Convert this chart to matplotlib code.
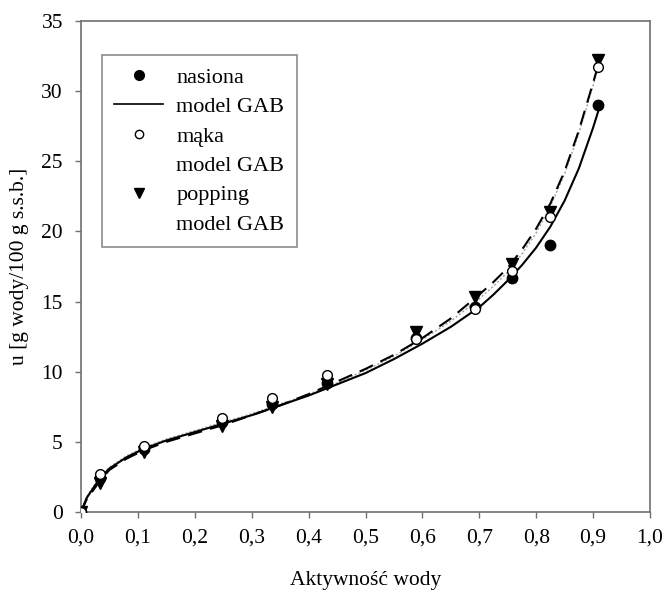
import matplotlib
matplotlib.use("Agg")
import matplotlib.pyplot as plt
from matplotlib.lines import Line2D
from matplotlib.ticker import FuncFormatter

# ---------------------------------------------------------------------------
# Dane
# ---------------------------------------------------------------------------
aw_pts = [0.0, 0.033, 0.11, 0.248, 0.336, 0.432, 0.589, 0.693, 0.757, 0.824, 0.909]
u_nasiona = [0.0, 2.4, 4.5, 6.4, 7.7, 9.2, 12.4, 14.6, 16.7, 19.0, 29.0]
u_maka = [0.0, 2.7, 4.7, 6.7, 8.1, 9.8, 12.3, 14.5, 17.2, 21.0, 31.7]
u_popping = [0.0, 2.1, 4.3, 6.1, 7.5, 9.1, 12.8, 15.3, 17.7, 21.4, 32.2]

aw_model = [0.0, 0.01, 0.033, 0.05, 0.08, 0.11, 0.15, 0.2, 0.25, 0.3, 0.35,
            0.4, 0.45, 0.5, 0.55, 0.6, 0.65, 0.7, 0.725, 0.75, 0.775, 0.8,
            0.825, 0.85, 0.875, 0.9, 0.91]
gab_nasiona = [0.0, 1.0, 2.4, 3.1, 3.9, 4.5, 5.1, 5.7, 6.3, 6.9, 7.6,
               8.3, 9.1, 9.9, 10.9, 12.0, 13.2, 14.6, 15.5, 16.5, 17.6, 18.85,
               20.35, 22.2, 24.5, 27.4, 28.7]
gab_maka = [0.0, 1.1, 2.5, 3.2, 4.0, 4.6, 5.2, 5.8, 6.4, 7.0, 7.7,
            8.4, 9.2, 10.1, 11.1, 12.3, 13.6, 15.2, 16.1, 17.1, 18.4, 19.9,
            21.8, 24.1, 27.0, 30.4, 31.8]
gab_popping = [0.0, 0.9, 2.2, 3.0, 3.8, 4.4, 5.0, 5.6, 6.2, 6.9, 7.6,
               8.4, 9.3, 10.2, 11.2, 12.4, 13.8, 15.5, 16.4, 17.4, 18.7, 20.2,
               22.0, 24.3, 27.2, 30.6, 32.0]

x_ticks = [0.0, 0.1, 0.2, 0.3, 0.4, 0.5, 0.6, 0.7, 0.8, 0.9, 1.0]
y_ticks = [0, 5, 10, 15, 20, 25, 30, 35]

SPINE = "#6f6f6f"
FS = 15.5

plt.rcParams.update({
    "font.family": ["Liberation Serif", "DejaVu Serif"],
    "font.size": FS,
})

fig = plt.figure(figsize=(6.66, 5.97), dpi=100)
ax = fig.add_axes([0.1216, 0.1424, 0.8544, 0.8224])

# krzywe modelu GAB
ax.plot(aw_model, gab_maka, color="#a0a0a0", lw=1.0, ls=(0, (1.5, 1.5)), zorder=2)
ax.plot(aw_model, gab_nasiona, color="black", lw=1.5, zorder=3)
ax.plot(aw_model, gab_popping, color="black", lw=1.5, ls=(0, (7, 4)), zorder=3)

# punkty pomiarowe
ax.plot(aw_pts, u_nasiona, ls="none", marker="o", ms=7.5, mfc="black",
        mec="black", zorder=4)
ax.plot(aw_pts, u_popping, ls="none", marker="v", ms=8, mfc="black",
        mec="black", zorder=5)
ax.plot(aw_pts, u_maka, ls="none", marker="o", ms=7, mfc="white",
        mec="black", mew=1.0, zorder=6)

ax.set_xlim(0, 1.0)
ax.set_ylim(0, 35)
ax.set_xticks(x_ticks)
ax.set_yticks(y_ticks)
ax.xaxis.set_major_formatter(FuncFormatter(lambda v, p: f"{v:.1f}".replace(".", ",")))
ax.tick_params(axis="x", direction="out", length=4, width=1, color=SPINE, pad=8, labelsize=FS)
ax.tick_params(axis="y", direction="out", length=4, width=1, color=SPINE, pad=9, labelsize=FS)
for s in ax.spines.values():
    s.set_color(SPINE)
    s.set_linewidth(1.2)

ax.set_xlabel("Aktywność wody", fontsize=FS, labelpad=17)
ax.set_ylabel("u [g wody/100 g s.s.b.]", fontsize=FS, labelpad=9)

# legenda
handles = [
    Line2D([], [], ls="none", marker="o", ms=7, mfc="black", mec="black"),
    Line2D([], [], color="black", lw=1.2),
    Line2D([], [], ls="none", marker="o", ms=6, mfc="white", mec="black"),
    Line2D([], [], color="none"),
    Line2D([], [], ls="none", marker="v", ms=7, mfc="black", mec="black"),
    Line2D([], [], color="none"),
]
labels = ["nasiona", "model GAB", "mąka", "model GAB", "popping", "model GAB"]
leg = ax.legend(handles, labels, loc="upper left", bbox_to_anchor=(0.037, 0.931),
                borderaxespad=0, frameon=True, fancybox=False, fontsize=16,
                handlelength=2.2, handletextpad=0.6, labelspacing=0.4,
                borderpad=0.55)
leg.get_frame().set_edgecolor(SPINE)
leg.get_frame().set_linewidth(1.2)

fig.savefig("out.png", dpi=100)
